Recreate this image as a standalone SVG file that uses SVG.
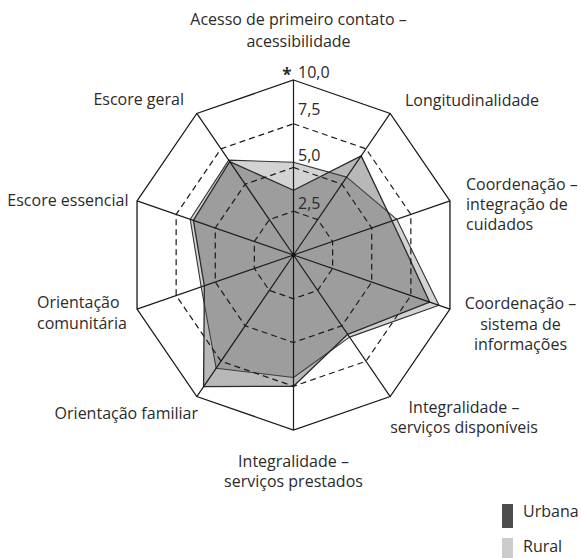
<svg xmlns="http://www.w3.org/2000/svg" width="581" height="558" viewBox="0 0 581 558">
<style>
text{font-family:"Open Sans","Noto Sans","Liberation Sans",sans-serif;font-size:16px;fill:#2b2b2b}
.ring{fill:none;stroke:#1a1a1a;stroke-width:1.2;stroke-dasharray:6 4}
.axis{stroke:#1a1a1a;stroke-width:1.2}
.outer{fill:none;stroke:#1a1a1a;stroke-width:1.3;stroke-linejoin:miter}
.rural{fill:#d3d3d3;stroke:#333;stroke-width:1.1;stroke-linejoin:round}
.urbana{fill:#4d4d4d;fill-opacity:0.4;stroke:#2a2a2a;stroke-width:1.3;stroke-linejoin:round}
.mid{text-anchor:middle}
.end{text-anchor:end}
</style>
<rect width="581" height="558" fill="#fff"/>
<g id="series">
<polygon id="rural" class="rural" points="293.5,162.25 346.68,177.13 396.76,219.31 439.01,305.29 349.58,337.12 293.5,377.5 216.15,368.26 201.19,286.91 190.24,219.31 228.72,160.14"/>
<polygon id="urbana" class="urbana" points="293.5,190.25 361.18,155.89 392.07,220.93 429.62,302.05 347.65,334.28 293.5,386.25 203.58,386.67 204.32,285.83 193.37,220.39 229.68,161.56"/>
</g>
<g id="grid">
<polygon class="ring" points="293.5,211.25 317.67,219.6 332.62,241.48 332.62,268.52 317.67,290.4 293.5,298.75 269.33,290.4 254.38,268.52 254.38,241.48 269.33,219.6"/>
<polygon class="ring" points="293.5,167.5 341.85,184.21 371.73,227.96 371.73,282.04 341.85,325.79 293.5,342.5 245.15,325.79 215.27,282.04 215.27,227.96 245.15,184.21"/>
<polygon class="ring" points="293.5,123.75 366.02,148.81 410.85,214.44 410.85,295.56 366.02,361.19 293.5,386.25 220.98,361.19 176.15,295.56 176.15,214.44 220.98,148.81"/>
<g id="connectors">
<line class="axis" x1="293.5" y1="255" x2="293.5" y2="80"/>
<line class="axis" x1="293.5" y1="255" x2="390.19" y2="113.42"/>
<line class="axis" x1="293.5" y1="255" x2="449.96" y2="200.92"/>
<line class="axis" x1="293.5" y1="255" x2="449.96" y2="309.08"/>
<line class="axis" x1="293.5" y1="255" x2="390.19" y2="396.58"/>
<line class="axis" x1="293.5" y1="255" x2="293.5" y2="430"/>
<line class="axis" x1="293.5" y1="255" x2="196.81" y2="396.58"/>
<line class="axis" x1="293.5" y1="255" x2="137.04" y2="309.08"/>
<line class="axis" x1="293.5" y1="255" x2="137.04" y2="200.92"/>
<line class="axis" x1="293.5" y1="255" x2="196.81" y2="113.42"/>
</g>
<polygon class="outer" points="293.5,80 390.19,113.42 449.96,200.92 449.96,309.08 390.19,396.58 293.5,430 196.81,396.58 137.04,309.08 137.04,200.92 196.81,113.42"/>
<circle cx="293.5" cy="255" r="2.2" fill="#111"/>
</g>
<g id="scale">
<text x="287" y="81" class="mid" style="font-size:17px;font-weight:bold">*</text>
<text x="298" y="78">10,0</text>
<text x="298" y="115">7,5</text>
<text x="298" y="161">5,0</text>
<text x="298" y="209">2,5</text>
</g>
<g id="n0"><text class="mid" x="298.5" y="25">Acesso de primeiro contato –</text><text class="mid" x="298.5" y="47">acessibilidade</text></g>
<g id="n1"><text x="405" y="106">Longitudinalidade</text></g>
<g id="n2"><text x="466" y="190">Coordenação –</text><text x="466" y="210">integração de</text><text x="466" y="230">cuidados</text></g>
<g id="n3"><text class="mid" x="520.5" y="309">Coordenação –</text><text class="mid" x="520.5" y="330">sistema de</text><text class="mid" x="520.5" y="350">informações</text></g>
<g id="n4"><text class="mid" x="464" y="413">Integralidade –</text><text class="mid" x="464" y="433">serviços disponíveis</text></g>
<g id="n5"><text class="mid" x="293.5" y="467">Integralidade –</text><text class="mid" x="293.5" y="487">serviços prestados</text></g>
<g id="n6"><text class="end" x="198" y="419">Orientação familiar</text></g>
<g id="n7"><text x="37" y="307.5">Orientação</text><text x="37" y="329">comunitária</text></g>
<g id="n8"><text class="end" x="128.5" y="206">Escore essencial</text></g>
<g id="n9"><text class="end" x="184" y="105">Escore geral</text></g>
<g id="legend">
<rect x="502" y="504" width="11" height="24" fill="#4d4d4d"/>
<text x="523" y="517">Urbana</text>
<rect x="502" y="538" width="11" height="20" fill="#cccccc"/>
<text x="523" y="552">Rural</text>
</g>
</svg>
